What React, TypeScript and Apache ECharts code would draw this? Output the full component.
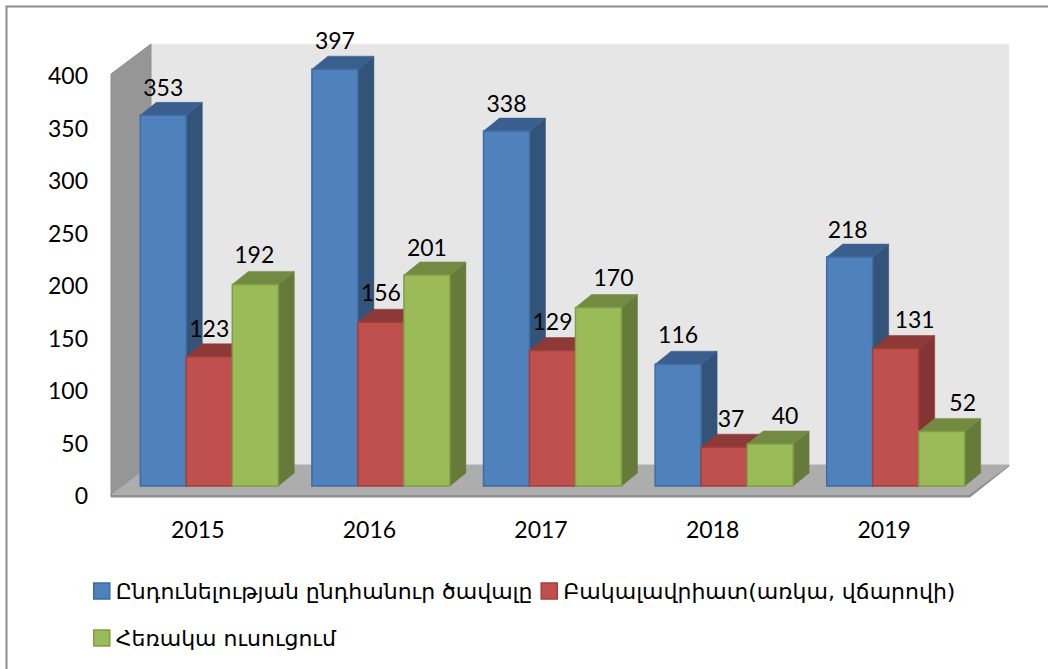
import React, { useEffect, useRef } from "react";
import * as echarts from "echarts";

const years = ["2015", "2016", "2017", "2018", "2019"];
const totalAdmission = [353, 397, 338, 116, 218];
const bachelor = [123, 156, 129, 37, 131];
const distance = [192, 201, 170, 40, 52];
const yTicksMax = 400;
const seriesNames = [
  "Ընդունելության ընդհանուր ծավալը",
  "Բակալավրիատ(առկա, վճարովի)",
  "Հեռակա ուսուցում",
];
// Manual placement of the value labels, as in the original slide (px right / px up).
const labelShift = [
  [0, 0, 0, 0, -2],
  [0, 0, 0, 7, 19],
  [-1, 0, 15, 15, 21],
];
const labelLift = [
  [0, 1, 0, 2, 0],
  [1, 2, 2, 1, 1],
  [2, 0, 3, 1, 1],
];

const FONT = "Lato, 'DejaVu Sans', sans-serif";
const LEGEND_FONT = "'DejaVu Sans', sans-serif";
const GRID = { left: 112, top: 75, width: 858, height: 420 };
const palette = [
  { front: "#4F81BD", border: "#3E6CA3", top: "#3A5F8E", side: "#335379" },
  { front: "#C0504D", border: "#A33E3B", top: "#8C3937", side: "#843432" },
  { front: "#9BBB59", border: "#7F9E45", top: "#728A42", side: "#667B3A" },
];

const BASE_DX = 11.5;
const BASE_DY = -9;
const DEPTH_X = 16;
const DEPTH_Y = -13;
const BAR_RATIO = 46 / 171.6;

function makeBars(seriesIndex: number, name: string, values: number[]) {
  const p = palette[seriesIndex];
  return {
    type: "custom",
    name,
    coordinateSystem: "cartesian2d",
    itemStyle: { color: p.front, borderColor: p.border, borderWidth: 1.5 },
    encode: { x: 0, y: 1 },
    data: values.map((v, i) => [i, v]),
    renderItem: (params: any, api: any) => {
      const idx = api.value(0);
      const val = api.value(1);
      const topPt = api.coord([idx, val]);
      const basePt = api.coord([idx, 0]);
      const w = api.size([1, 0])[0] * BAR_RATIO;
      const x0 = topPt[0] - 1.5 * w + seriesIndex * w + BASE_DX;
      const x1 = x0 + w;
      const yTop = topPt[1] + BASE_DY;
      const yBase = basePt[1] + BASE_DY;
      const poly = (points: number[][], fill: string, z2 = 1) => ({
        type: "polygon",
        z2,
        shape: { points },
        style: { fill, stroke: fill, lineWidth: 0.5 },
      });
      return {
        type: "group",
        children: [
          poly(
            [
              [x1, yTop],
              [x1 + DEPTH_X, yTop + DEPTH_Y],
              [x1 + DEPTH_X, yBase + DEPTH_Y],
              [x1, yBase],
            ],
            p.side
          ),
          poly(
            [
              [x0, yTop],
              [x0 + DEPTH_X, yTop + DEPTH_Y],
              [x1 + DEPTH_X, yTop + DEPTH_Y],
              [x1, yTop],
            ],
            p.top
          ),
          {
            type: "rect",
            z2: 2,
            shape: { x: x0, y: yTop, width: w, height: yBase - yTop },
            style: { fill: p.front, stroke: p.border, lineWidth: 1.5 },
          },
          {
            type: "text",
            z2: 50,
            style: {
              x: x0 + w / 2 + labelShift[seriesIndex][params.dataIndex],
              y: yTop - 28 - labelLift[seriesIndex][params.dataIndex],
              text: String(val),
              font: `23px ${FONT}`,
              fill: "#000",
              align: "center",
              verticalAlign: "middle",
            },
          },
        ],
      };
    },
  };
}

const wall = (points: number[][], fill: string, stroke = fill) => ({
  type: "polygon",
  silent: true,
  shape: { points },
  style: { fill, stroke, lineWidth: 1 },
});

export default function App() {
  const ref = useRef<HTMLDivElement>(null);
  useEffect(() => {
    const chart = echarts.init(ref.current!, undefined, { renderer: "svg" });
    const legendBase = {
      orient: "horizontal",
      itemWidth: 16,
      itemHeight: 16,
      itemGap: 8,
      padding: 0,
      textStyle: { fontFamily: LEGEND_FONT, fontSize: 22, color: "#000", padding: [0, 0, 0, 1] },
    };
    const legendItem = (i: number) => ({
      name: seriesNames[i],
      icon: "rect",
      itemStyle: { color: palette[i].front, borderColor: palette[i].border, borderWidth: 1.5 },
    });
    chart.setOption({
      animation: false,
      backgroundColor: "#fff",
      grid: { ...GRID },
      xAxis: {
        type: "category",
        data: years,
        axisLine: { show: false },
        axisTick: { show: false },
        splitLine: { show: false },
        axisLabel: { fontFamily: FONT, fontSize: 23, color: "#000", margin: 22 },
      },
      yAxis: {
        type: "value",
        min: 0,
        max: yTicksMax,
        interval: 50,
        axisLine: { show: false },
        axisTick: { show: false },
        splitLine: { show: false },
        axisLabel: { fontFamily: FONT, fontSize: 23, color: "#000", margin: 24, padding: [0, 0, 8, 0] },
      },
      legend: [
        { ...legendBase, left: 93, top: 580, data: [legendItem(0), legendItem(1)] },
        { ...legendBase, left: 93, top: 627, data: [legendItem(2)] },
      ],
      graphic: [
        { type: "polyline", silent: true, shape: { points: [[6.5, 669], [6.5, 6.5], [1048, 6.5]] }, style: { fill: "none", stroke: "#8c8c8c", lineWidth: 2 } },
        wall([[151, 44], [1009, 44], [1009, 465], [151, 465]], "#E6E6E6", "#eeeeee"),
        wall([[111, 74], [151, 44], [151, 465], [111, 496]], "#969696", "#8f8f8f"),
        wall([[111, 497], [970, 497], [1009, 466], [1009, 465], [969, 494], [111, 494]], "#8f8f8f"),
        wall([[112, 494.5], [969, 494.5], [1009, 465], [151, 465]], "#ADADAD"),
      ],
      series: [
        makeBars(0, seriesNames[0], totalAdmission),
        makeBars(1, seriesNames[1], bachelor),
        makeBars(2, seriesNames[2], distance),
      ],
    });
    return () => chart.dispose();
  }, []);
  return <div ref={ref} style={{ position: "fixed", left: 0, top: 0, width: 1048, height: 669 }} />;
}
